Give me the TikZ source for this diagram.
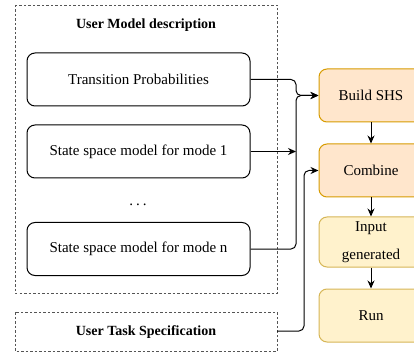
\documentclass[tikz,border=0pt]{standalone}
\usepackage{fontspec}
\setmainfont{Liberation Serif}
\usetikzlibrary{arrows.meta}
\definecolor{orfill}{HTML}{FFE6CC}
\definecolor{ordraw}{HTML}{D79B00}
\definecolor{yefill}{HTML}{FFF2CC}
\definecolor{yedraw}{HTML}{D6B656}
\definecolor{dashgray}{HTML}{555555}
\tikzset{
  grp/.style={draw=dashgray, line width=0.9pt, dash pattern=on 2.5pt off 2pt},
  modelbox/.style={draw=black, line width=1pt, rounded corners=8pt, minimum width=223pt, minimum height=53pt, inner sep=0pt, font=\fontsize{15}{18}\selectfont},
  obox/.style={draw=ordraw, fill=orfill, line width=1pt, rounded corners=8pt, minimum width=104pt, minimum height=53pt, inner sep=0pt, font=\fontsize{15}{18}\selectfont},
  ybox/.style={draw=yedraw, fill=yefill, line width=1pt, rounded corners=8pt, minimum width=104pt, minimum height=50pt, inner sep=0pt, font=\fontsize{15}{18}\selectfont},
  conn/.style={draw=black, line width=1pt, rounded corners=5pt, -{Stealth[length=8pt,width=7pt]}},
  ttl/.style={font=\bfseries\fontsize{14}{17}\selectfont, inner sep=0pt}
}
\begin{document}
\begin{tikzpicture}[x=1pt,y=-1pt]
\useasboundingbox (0,0) rectangle (414,352);
\clip (0,0) rectangle (414,352);
% groups
\draw[grp] (15,5) rectangle (277,293);
\node[ttl] (t1) at (146,25) {User Model description};
\draw[grp] (15,312) rectangle (277,351);
\node[ttl] (t2) at (146,332) {User Task Specification};
\coordinate (uts) at (277,331);
% model boxes
\node[modelbox] (tp) at (138.5,79.5) {Transition Probabilities};
\node[modelbox] (m1) at (138.5,151.5) {State space model for mode 1};
\node (dots) at (138,205) {\fontsize{15}{18}\selectfont.\hspace{3pt}.\hspace{3pt}.};
\node[modelbox] (mn) at (138.5,249) {State space model for mode n};
% right column
\node[obox] (bs) at (371,95.5) {Build SHS};
\node[obox] (cb) at (371,170.5) {Combine};
\node[ybox, align=center, font=\fontsize{15}{28}\selectfont] (ig) at (371,242) {Input\\generated};
\node[ybox, minimum height=53pt] (run) at (371,315.5) {Run};
% connectors
\draw[conn] (tp.east) -- (296,79.5) -- (296,95.5) -- (bs.west);
\draw[conn] (mn.east) -- (296,249) -- (296,95.5) -- (bs.west);
\coordinate (m1end) at (296,151.5);
\draw[conn] (m1.east) -- (m1end);
\draw[conn] (uts) -- (304,331) -- (304,170.5) -- (cb.west);
\draw[conn] (bs.south) -- (cb.north);
\draw[conn] (cb.south) -- (ig.north);
\draw[conn] (ig.south) -- (run.north);
\end{tikzpicture}
\end{document}
